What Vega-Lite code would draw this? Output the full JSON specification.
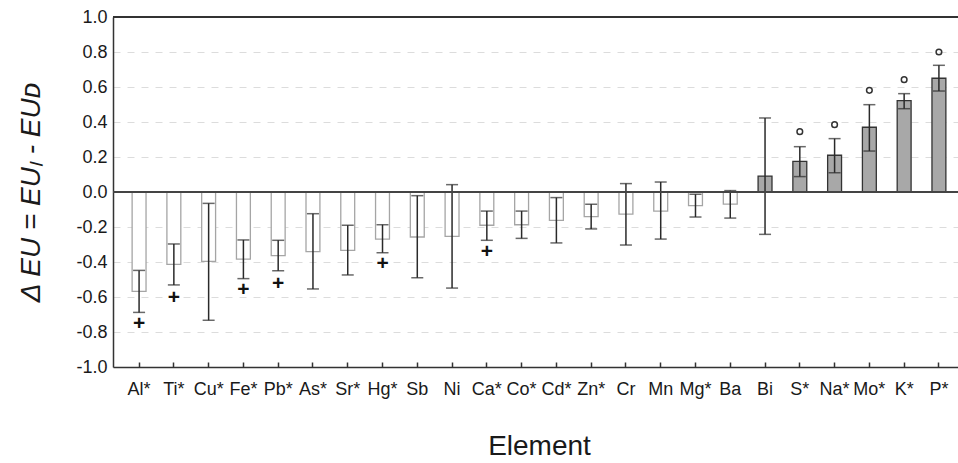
{
  "$schema": "https://vega.github.io/schema/vega-lite/v6.json",
  "width": 845,
  "height": 350,
  "autosize": "none",
  "padding": {"left": 113, "top": 17, "right": 0, "bottom": 96},
  "background": "white",
  "config": {
    "view": {"stroke": null},
    "font": "Liberation Sans",
    "axis": {"labelFont": "Liberation Sans", "titleFont": "Liberation Sans", "labelColor": "#1a1a1a", "titleColor": "#1a1a1a"}
  },
  "data": {
    "values": [
      {"el": "Al*", "v": -0.568, "lo": -0.688, "hi": -0.448, "plus": -0.756, "circ": null},
      {"el": "Ti*", "v": -0.413, "lo": -0.531, "hi": -0.297, "plus": -0.604, "circ": null},
      {"el": "Cu*", "v": -0.396, "lo": -0.733, "hi": -0.065, "plus": null, "circ": null},
      {"el": "Fe*", "v": -0.383, "lo": -0.495, "hi": -0.274, "plus": -0.562, "circ": null},
      {"el": "Pb*", "v": -0.364, "lo": -0.450, "hi": -0.276, "plus": -0.528, "circ": null},
      {"el": "As*", "v": -0.341, "lo": -0.554, "hi": -0.124, "plus": null, "circ": null},
      {"el": "Sr*", "v": -0.333, "lo": -0.474, "hi": -0.190, "plus": null, "circ": null},
      {"el": "Hg*", "v": -0.269, "lo": -0.347, "hi": -0.187, "plus": -0.413, "circ": null},
      {"el": "Sb", "v": -0.257, "lo": -0.490, "hi": -0.021, "plus": null, "circ": null},
      {"el": "Ni", "v": -0.253, "lo": -0.549, "hi": 0.042, "plus": null, "circ": null},
      {"el": "Ca*", "v": -0.190, "lo": -0.276, "hi": -0.109, "plus": -0.341, "circ": null},
      {"el": "Co*", "v": -0.187, "lo": -0.265, "hi": -0.109, "plus": null, "circ": null},
      {"el": "Cd*", "v": -0.162, "lo": -0.291, "hi": -0.032, "plus": null, "circ": null},
      {"el": "Zn*", "v": -0.141, "lo": -0.211, "hi": -0.070, "plus": null, "circ": null},
      {"el": "Cr", "v": -0.126, "lo": -0.303, "hi": 0.048, "plus": null, "circ": null},
      {"el": "Mn", "v": -0.109, "lo": -0.269, "hi": 0.057, "plus": null, "circ": null},
      {"el": "Mg*", "v": -0.078, "lo": -0.143, "hi": -0.013, "plus": null, "circ": null},
      {"el": "Ba", "v": -0.069, "lo": -0.149, "hi": 0.008, "plus": null, "circ": null},
      {"el": "Bi", "v": 0.091, "lo": -0.242, "hi": 0.423, "plus": null, "circ": null},
      {"el": "S*", "v": 0.175, "lo": 0.088, "hi": 0.259, "plus": null, "circ": 0.345},
      {"el": "Na*", "v": 0.210, "lo": 0.110, "hi": 0.305, "plus": null, "circ": 0.385},
      {"el": "Mo*", "v": 0.370, "lo": 0.234, "hi": 0.499, "plus": null, "circ": 0.581},
      {"el": "K*", "v": 0.522, "lo": 0.476, "hi": 0.562, "plus": null, "circ": 0.642},
      {"el": "P*", "v": 0.650, "lo": 0.577, "hi": 0.724, "plus": null, "circ": 0.800}
    ]
  },
  "layer": [
    {
      "mark": {"type": "bar", "strokeWidth": 1.3},
      "encoding": {
        "x": {
          "field": "el",
          "type": "nominal",
          "sort": null,
          "scale": {"range": [0, 852], "paddingInner": 0.6, "paddingOuter": 0.55},
          "axis": {
            "title": "Element",
            "titleFontSize": 28,
            "titleFontWeight": "normal",
            "titlePadding": 34,
            "labelAngle": 0,
            "labelFontSize": 18,
            "labelPadding": 18,
            "ticks": true,
            "tickSize": -5,
            "tickColor": "#333",
            "tickWidth": 1.5,
            "domainColor": "#333",
            "domainWidth": 1.5,
            "grid": false
          }
        },
        "y": {
          "field": "v",
          "type": "quantitative",
          "scale": {"domain": [-1, 1], "nice": false, "zero": false},
          "axis": {
            "title": "Δ EU = EUₗ - EUᴅ",
            "titleFontSize": 28,
            "titleFontWeight": "normal",
            "titleFontStyle": "italic",
            "titlePadding": 30,
            "values": [-1, -0.8, -0.6, -0.4, -0.2, 0, 0.2, 0.4, 0.6, 0.8, 1],
            "tickCount": 20,
            "labelExpr": "replace(format(datum.value, '.1f'), '\u2212', '-')",
            "labelOverlap": false,
            "labelFontSize": 18,
            "labelPadding": 6,
            "ticks": false,
            "domainColor": "#333",
            "domainWidth": 1.5,
            "grid": true,
            "gridColor": "#dcdcdc",
            "gridDash": [7, 7],
            "gridWidth": 1
          }
        },
        "y2": {"datum": 0},
        "fill": {"condition": {"test": "datum.v > 0", "value": "#a8a8a8"}, "value": "white"},
        "stroke": {"condition": {"test": "datum.v > 0", "value": "#333"}, "value": "#a5a5a5"}
      }
    },
    {
      "mark": {"type": "rule", "color": "#2a2a2a", "strokeWidth": 1.5},
      "encoding": {
        "x": {"field": "el", "type": "nominal", "sort": null},
        "y": {"field": "lo", "type": "quantitative"},
        "y2": {"field": "hi"}
      }
    },
    {
      "mark": {"type": "tick", "color": "#2a2a2a", "size": 12, "thickness": 1.5},
      "encoding": {
        "x": {"field": "el", "type": "nominal", "sort": null},
        "y": {"field": "lo", "type": "quantitative"}
      }
    },
    {
      "mark": {"type": "tick", "color": "#2a2a2a", "size": 12, "thickness": 1.5},
      "encoding": {
        "x": {"field": "el", "type": "nominal", "sort": null},
        "y": {"field": "hi", "type": "quantitative"}
      }
    },
    {
      "mark": {"type": "text", "text": "+", "fontSize": 21, "fontWeight": "bold", "baseline": "middle", "align": "center", "color": "#111"},
      "encoding": {
        "x": {"field": "el", "type": "nominal", "sort": null},
        "y": {"field": "plus", "type": "quantitative"}
      }
    },
    {
      "mark": {"type": "point", "shape": "circle", "size": 32, "filled": false, "stroke": "#333", "strokeWidth": 1.5, "opacity": 1},
      "encoding": {
        "x": {"field": "el", "type": "nominal", "sort": null},
        "y": {"field": "circ", "type": "quantitative"}
      }
    },
    {
      "mark": {"type": "rule", "color": "#444", "strokeWidth": 1.5},
      "encoding": {"y": {"datum": 0}}
    },
    {
      "mark": {"type": "rule", "color": "#333", "strokeWidth": 1.5},
      "encoding": {"y": {"datum": 1}}
    }
  ]
}
